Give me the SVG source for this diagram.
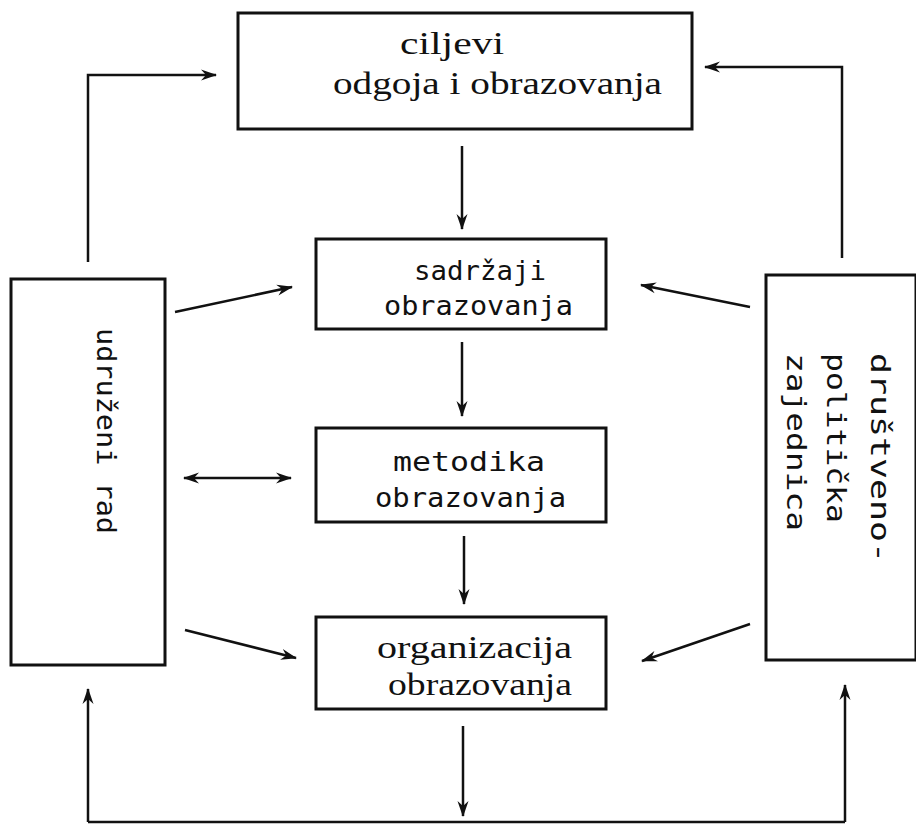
<svg xmlns="http://www.w3.org/2000/svg" width="916" height="827" viewBox="0 0 916 827">
<style>
.box{fill:none;stroke:#111;stroke-width:3}
.ln{fill:none;stroke:#111;stroke-width:2.5}
.serif{font-family:"Liberation Serif","DejaVu Serif",serif;font-size:32px;fill:#111}
.mono{font-family:"DejaVu Sans Mono","Liberation Mono",monospace;font-size:26px;fill:#111}
</style>
<defs>
<marker id="ah" viewBox="0 0 16 12" refX="15" refY="6" markerWidth="16" markerHeight="12" markerUnits="userSpaceOnUse" orient="auto-start-reverse">
<path d="M0,0.5 L16,6 L0,11.5 L5,6 Z" fill="#111"/>
</marker>
</defs>
<rect width="916" height="827" fill="#fff"/>
<g id="ciljevi">
<rect class="box" x="238" y="13" width="454" height="116"/>
<text class="serif" x="400" y="54" textLength="104" lengthAdjust="spacingAndGlyphs">ciljevi</text>
<text class="serif" x="333" y="94" textLength="329" lengthAdjust="spacingAndGlyphs">odgoja i obrazovanja</text>
</g>
<g id="sadrzaji">
<rect class="box" x="316" y="239" width="290" height="90"/>
<text class="mono" x="414" y="280" textLength="132" lengthAdjust="spacingAndGlyphs">sadržaji</text>
<text class="mono" x="384" y="315" textLength="189" lengthAdjust="spacingAndGlyphs">obrazovanja</text>
</g>
<g id="metodika">
<rect class="box" x="316" y="428" width="290" height="94"/>
<text class="mono" x="393" y="471" textLength="152" lengthAdjust="spacingAndGlyphs">metodika</text>
<text class="mono" x="375" y="507" textLength="191" lengthAdjust="spacingAndGlyphs">obrazovanja</text>
</g>
<g id="organizacija">
<rect class="box" x="316" y="617" width="290" height="92"/>
<text class="serif" x="377" y="658" textLength="195" lengthAdjust="spacingAndGlyphs">organizacija</text>
<text class="serif" x="388" y="695" textLength="184" lengthAdjust="spacingAndGlyphs">obrazovanja</text>
</g>
<g id="udruzeni-rad">
<rect class="box" x="11" y="279" width="154" height="386"/>
<text class="mono" transform="translate(97,328) rotate(90)" textLength="206" lengthAdjust="spacingAndGlyphs">udruženi rad</text>
</g>
<g id="drustveno-politicka">
<rect class="box" x="766" y="275" width="150" height="385"/>
<text class="mono" transform="translate(871,353) rotate(90)" textLength="210" lengthAdjust="spacingAndGlyphs">društveno-</text>
<text class="mono" transform="translate(827,353) rotate(90)" textLength="170" lengthAdjust="spacingAndGlyphs">politička</text>
<text class="mono" transform="translate(787,353) rotate(90)" textLength="178" lengthAdjust="spacingAndGlyphs">zajednica</text>
</g>
<g id="connectors">
<path class="ln" d="M88,262 V75 H216" marker-end="url(#ah)"/>
<path class="ln" d="M842,258 V67 H705" marker-end="url(#ah)"/>
<path class="ln" d="M462,146 V229" marker-end="url(#ah)"/>
<path class="ln" d="M462,342 V416" marker-end="url(#ah)"/>
<path class="ln" d="M464,536 V604" marker-end="url(#ah)"/>
<path class="ln" d="M463,726 V816" marker-end="url(#ah)"/>
<path class="ln" d="M88,822 H845"/>
<path class="ln" d="M88,822 V689" marker-end="url(#ah)"/>
<path class="ln" d="M845,822 V685" marker-end="url(#ah)"/>
<path class="ln" d="M175,312 L292,287" marker-end="url(#ah)"/>
<path class="ln" d="M184,478 L291,478" marker-start="url(#ah)" marker-end="url(#ah)"/>
<path class="ln" d="M185,630 L296,658" marker-end="url(#ah)"/>
<path class="ln" d="M750,307 L641,285" marker-end="url(#ah)"/>
<path class="ln" d="M750,624 L642,661" marker-end="url(#ah)"/>
</g>
</svg>
